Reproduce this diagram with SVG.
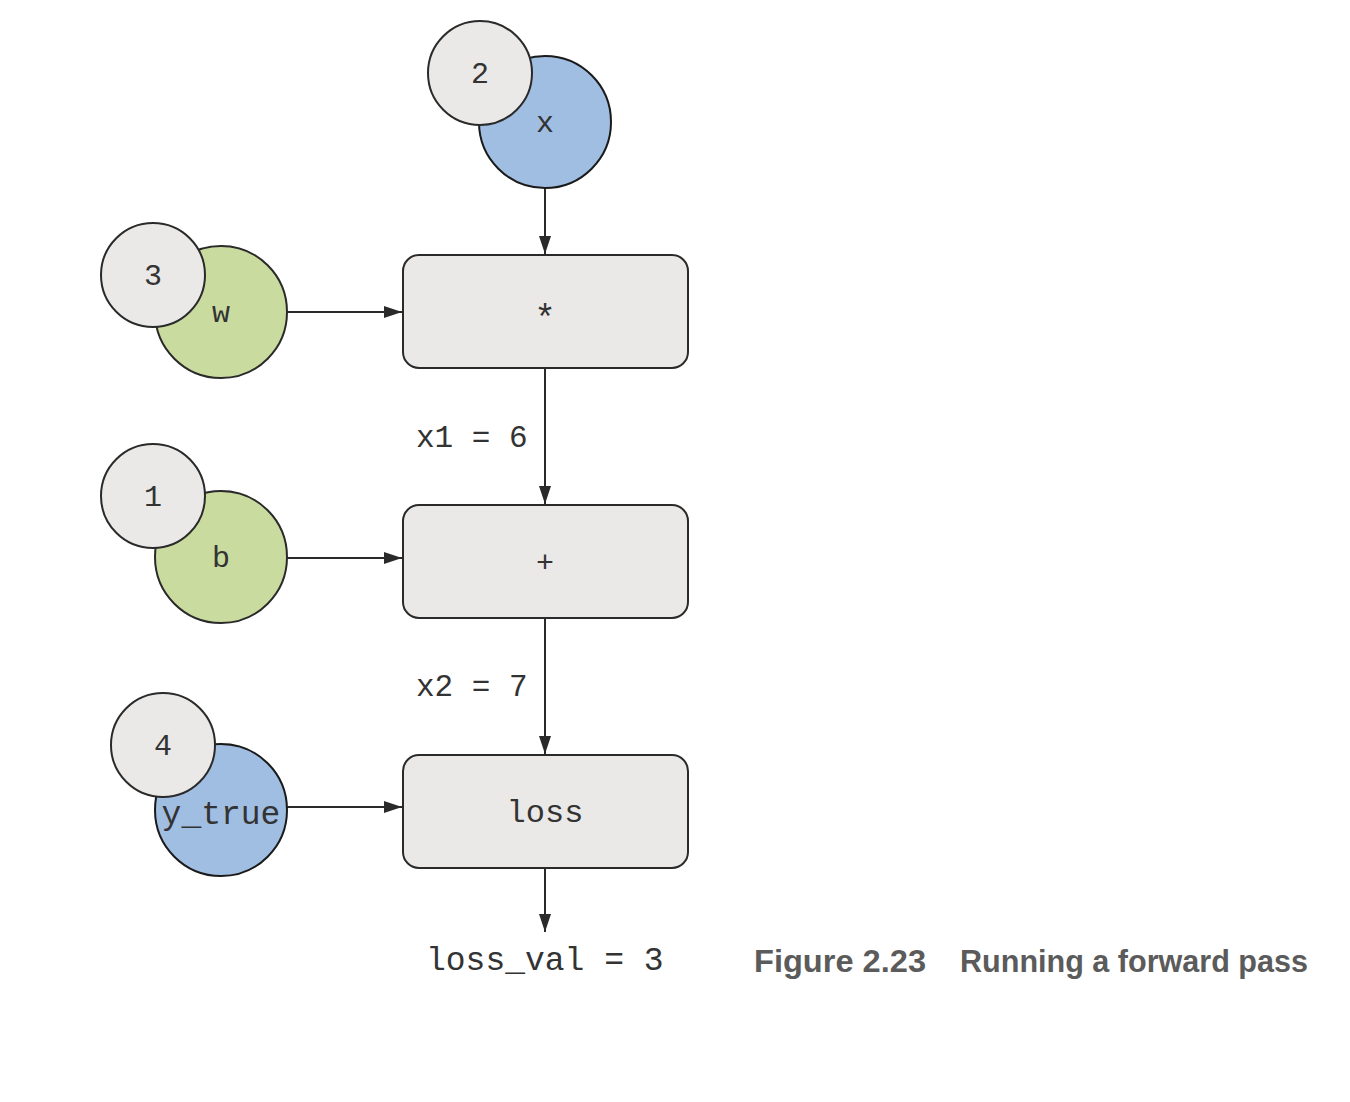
<svg xmlns="http://www.w3.org/2000/svg" width="1350" height="1102" viewBox="0 0 1350 1102">
  <style>
    .op { fill: #eae9e7; stroke: #2a2a2a; stroke-width: 2; }
    .badge { fill: #eae9e7; stroke: #2a2a2a; stroke-width: 2; }
    .blue { fill: #a0bde2; stroke: #1a1a1a; stroke-width: 2; }
    .green { fill: #cadb9f; stroke: #2a2a2a; stroke-width: 2; }
    .lbl { font-family: "Liberation Mono", "Courier New", monospace; font-size: 30px; fill: #333; text-anchor: middle; }
    .val { font-family: "Liberation Mono", "Courier New", monospace; font-size: 31px; fill: #333; }
    .edge { stroke: #2a2a2a; stroke-width: 2; fill: none; marker-end: url(#arrow); }
    .cap { font-family: "Liberation Sans Narrow", "Liberation Sans", Arial, sans-serif; font-weight: bold; font-size: 32px; fill: #5b5b5b; }
  </style>
  <defs>
    <marker id="arrow" viewBox="0 0 18 12" refX="18" refY="6" markerWidth="18" markerHeight="12" markerUnits="userSpaceOnUse" orient="auto">
      <path d="M0,0 L18,6 L0,12 Z" fill="#2a2a2a"/>
    </marker>
  </defs>

  <!-- connectors -->
  <g id="edges">
    <line class="edge" x1="545" y1="188" x2="545" y2="254"/>
    <line class="edge" x1="287" y1="312" x2="402" y2="312"/>
    <line class="edge" x1="545" y1="368" x2="545" y2="504"/>
    <line class="edge" x1="287" y1="558" x2="402" y2="558"/>
    <line class="edge" x1="545" y1="618" x2="545" y2="754"/>
    <line class="edge" x1="287" y1="807" x2="402" y2="807"/>
    <line class="edge" x1="545" y1="868" x2="545" y2="932"/>
  </g>

  <!-- input x with value badge -->
  <g id="node-x">
    <circle class="blue" cx="545" cy="122" r="66"/>
    <text class="lbl" x="545" y="132">x</text>
  </g>
  <g id="badge-x">
    <circle class="badge" cx="480" cy="73" r="52"/>
    <text class="lbl" x="480" y="83">2</text>
  </g>

  <!-- weight w -->
  <g id="node-w">
    <circle class="green" cx="221" cy="312" r="66"/>
    <text class="lbl" x="221" y="322">w</text>
  </g>
  <g id="badge-w">
    <circle class="badge" cx="153" cy="275" r="52"/>
    <text class="lbl" x="153" y="285">3</text>
  </g>

  <!-- bias b -->
  <g id="node-b">
    <circle class="green" cx="221" cy="557" r="66"/>
    <text class="lbl" x="221" y="567">b</text>
  </g>
  <g id="badge-b">
    <circle class="badge" cx="153" cy="496" r="52"/>
    <text class="lbl" x="153" y="506">1</text>
  </g>

  <!-- target y_true -->
  <g id="node-y_true">
    <circle class="blue" cx="221" cy="810" r="66"/>
    <text class="lbl" x="221" y="824" style="font-size:33px">y_true</text>
  </g>
  <g id="badge-y_true">
    <circle class="badge" cx="163" cy="745" r="52"/>
    <text class="lbl" x="163" y="755">4</text>
  </g>

  <!-- operations -->
  <g id="op-mul">
    <rect class="op" x="403" y="255" width="285" height="113" rx="16"/>
    <text class="lbl" x="545" y="330" style="font-size:36px">*</text>
  </g>
  <g id="op-add">
    <rect class="op" x="403" y="505" width="285" height="113" rx="16"/>
    <text class="lbl" x="545" y="572">+</text>
  </g>
  <g id="op-loss">
    <rect class="op" x="403" y="755" width="285" height="113" rx="16"/>
    <text class="lbl" x="545" y="822" style="font-size:32px">loss</text>
  </g>

  <!-- intermediate values -->
  <text class="val" x="416" y="447">x1 = 6</text>
  <text class="val" x="416" y="696">x2 = 7</text>
  <text class="val" x="426" y="970" style="font-size:33px">loss_val = 3</text>

  <!-- caption -->
  <text class="cap" x="754" y="972" textLength="172" lengthAdjust="spacingAndGlyphs">Figure 2.23</text>
  <text class="cap" x="960" y="972" textLength="348" lengthAdjust="spacingAndGlyphs">Running a forward pass</text>
</svg>
